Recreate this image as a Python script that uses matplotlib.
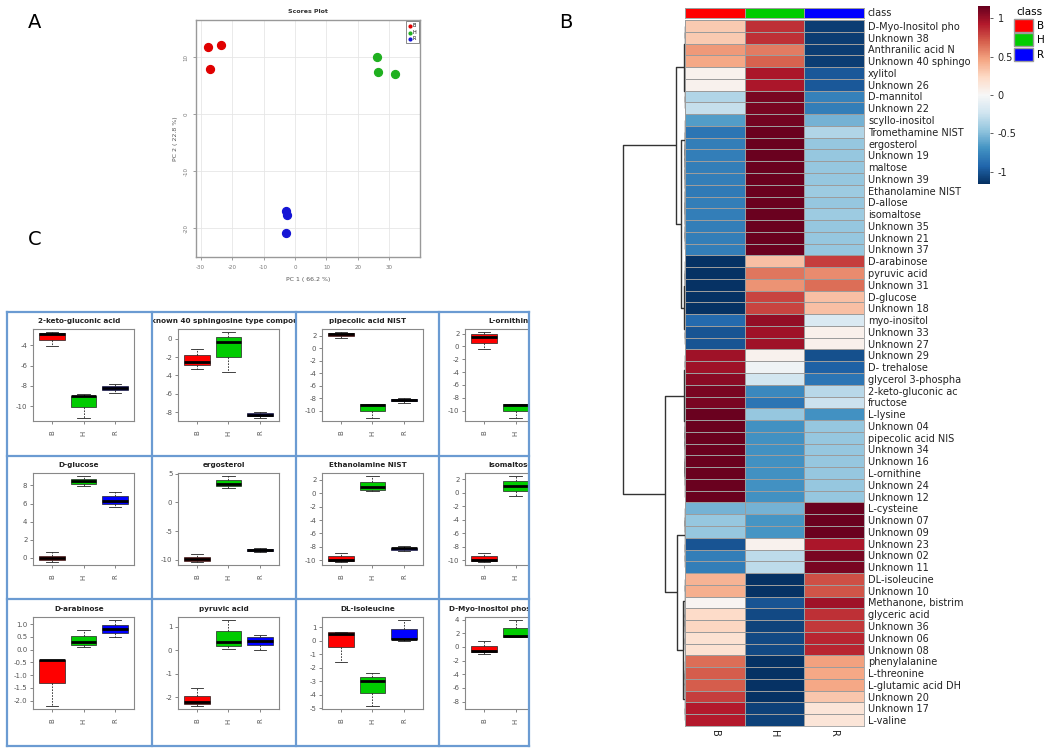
import numpy as np
import matplotlib
matplotlib.use('Agg')
import matplotlib.pyplot as plt
from matplotlib.colors import ListedColormap
from matplotlib.patches import Patch, Rectangle
from matplotlib.lines import Line2D

plt.rcParams['axes.unicode_minus'] = False
plt.rcParams['font.family'] = ['DejaVu Sans']

W, H = 1050, 751

# ---- A: PCA scores ----
groups = ['B', 'H', 'R']
group_colors = ['#e00000', '#1fb01f', '#1515d5']
pc1 = {'B': [-27.8, -23.6, -26.9], 'H': [26.1, 26.4, 31.9], 'R': [-2.7, -2.4, -2.9]}
pc2 = {'B': [11.8, 12.2, 7.9], 'H': [10.1, 7.4, 7.0], 'R': [-17.0, -17.6, -20.75]}

# ---- B: heatmap ----
hm_labels = [
    'D-Myo-Inositol pho', 'Unknown 38', 'Anthranilic acid N', 'Unknown 40 sphingo',
    'xylitol', 'Unknown 26', 'D-mannitol', 'Unknown 22', 'scyllo-inositol',
    'Tromethamine NIST', 'ergosterol', 'Unknown 19', 'maltose', 'Unknown 39',
    'Ethanolamine NIST', 'D-allose', 'isomaltose', 'Unknown 35', 'Unknown 21',
    'Unknown 37', 'D-arabinose', 'pyruvic acid', 'Unknown 31', 'D-glucose',
    'Unknown 18', 'myo-inositol', 'Unknown 33', 'Unknown 27', 'Unknown 29',
    'D- trehalose', 'glycerol 3-phospha', '2-keto-gluconic ac', 'fructose',
    'L-lysine', 'Unknown 04', 'pipecolic acid NIS', 'Unknown 34', 'Unknown 16',
    'L-ornithine', 'Unknown 24', 'Unknown 12', 'L-cysteine', 'Unknown 07',
    'Unknown 09', 'Unknown 23', 'Unknown 02', 'Unknown 11', 'DL-isoleucine',
    'Unknown 10', 'Methanone, bistrim', 'glyceric acid', 'Unknown 36',
    'Unknown 06', 'Unknown 08', 'phenylalanine', 'L-threonine',
    'L-glutamic acid DH', 'Unknown 20', 'Unknown 17', 'L-valine']
hm_B = [0.30, 0.30, 0.50, 0.45, 0.05, 0.05, -0.35, -0.28, -0.65, -0.85,
        -0.80, -0.80, -0.80, -0.80, -0.82, -0.80, -0.80, -0.80, -0.80, -0.80,
        -1.15, -1.15, -1.15, -1.15, -1.15, -0.90, -1.00, -1.00, 0.98, 0.98,
        1.05, 1.10, 1.10, 1.15, 1.15, 1.15, 1.15, 1.15, 1.15, 1.15,
        1.15, -0.55, -0.45, -0.45, -1.00, -0.80, -0.80, 0.40, 0.42, 0.02,
        0.22, 0.25, 0.18, 0.18, 0.65, 0.70, 0.70, 0.80, 0.92, 0.92]
hm_H = [0.85, 0.85, 0.60, 0.68, 0.95, 0.95, 1.10, 1.10, 1.12, 1.15,
        1.15, 1.15, 1.15, 1.15, 1.15, 1.15, 1.15, 1.15, 1.15, 1.15,
        0.35, 0.62, 0.52, 0.78, 0.78, 1.02, 0.98, 0.98, 0.05, -0.05,
        -0.22, -0.75, -0.85, -0.45, -0.70, -0.70, -0.70, -0.70, -0.70, -0.70,
        -0.70, -0.55, -0.68, -0.68, 0.05, -0.30, -0.30, -1.15, -1.15, -1.00,
        -1.05, -1.07, -1.05, -1.05, -1.15, -1.15, -1.15, -1.15, -1.08, -1.08]
hm_R = [-1.10, -1.10, -1.10, -1.10, -0.98, -0.98, -0.78, -0.80, -0.55, -0.35,
        -0.45, -0.45, -0.45, -0.45, -0.42, -0.45, -0.42, -0.45, -0.45, -0.45,
        0.80, 0.55, 0.65, 0.35, 0.35, -0.18, 0.06, 0.06, -1.02, -0.95,
        -0.85, -0.32, -0.25, -0.70, -0.45, -0.45, -0.45, -0.45, -0.45, -0.45,
        -0.45, 1.15, 1.15, 1.15, 0.95, 1.10, 1.10, 0.75, 0.73, 0.98,
        0.85, 0.82, 0.88, 0.88, 0.48, 0.45, 0.45, 0.32, 0.15, 0.15]

# ---- C: box plots (whislo, q1, median, q3, whishi) for B, H, R ----
box_titles = ['2-keto-gluconic acid', 'Unknown 40 sphingosine type compound',
              'pipecolic acid NIST', 'L-ornithine', 'D-glucose', 'ergosterol',
              'Ethanolamine NIST', 'isomaltose', 'D-arabinose', 'pyruvic acid',
              'DL-isoleucine', 'D-Myo-Inositol phosphateNIST']
box_stats = [
    [(-4.1, -3.5, -2.9, -2.8, -2.75), (-11.1, -10.1, -9.0, -8.95, -8.8), (-8.7, -8.35, -8.2, -8.05, -7.85)],
    [(-3.3, -2.85, -2.5, -1.75, -1.15), (-3.65, -1.95, -0.3, 0.15, 0.7), (-8.6, -8.4, -8.3, -8.1, -7.95)],
    [(1.7, 2.0, 2.3, 2.5, 2.55), (-11.1, -10.1, -9.1, -9.0, -8.9), (-8.7, -8.4, -8.3, -8.1, -7.9)],
    [(-0.45, 0.6, 1.45, 1.95, 2.2), (-11.1, -10.1, -9.1, -9.0, -8.9), (-8.7, -8.4, -8.3, -8.1, -7.9)],
    [(-0.4, -0.25, 0.0, 0.25, 0.67), (7.95, 8.2, 8.5, 8.75, 9.0), (5.6, 6.0, 6.3, 6.85, 7.25)],
    [(-10.3, -10.2, -9.9, -9.5, -8.9), (2.5, 2.8, 3.2, 3.8, 4.5), (-8.7, -8.4, -8.3, -8.1, -7.9)],
    [(-10.2, -10.1, -9.9, -9.4, -8.9), (0.3, 0.5, 0.9, 1.65, 2.5), (-8.6, -8.4, -8.2, -8.1, -7.9)],
    [(-10.2, -10.1, -9.9, -9.4, -8.9), (-0.5, 0.2, 1.0, 1.7, 2.4), (-8.6, -8.4, -8.2, -8.1, -7.9)],
    [(-2.2, -1.32, -0.42, -0.42, -0.42), (0.1, 0.2, 0.3, 0.52, 0.78), (0.5, 0.65, 0.8, 0.95, 1.15)],
    [(-2.35, -2.3, -2.2, -1.93, -1.6), (0.05, 0.18, 0.35, 0.83, 1.27), (0.0, 0.22, 0.4, 0.55, 0.65)],
    [(-1.55, -0.45, 0.5, 0.62, 0.65), (-4.8, -3.85, -2.95, -2.65, -2.4), (-0.05, 0.12, 0.15, 0.87, 1.5)],
    [(-1.0, -0.8, -0.6, 0.1, 0.85), (1.4, 1.4, 1.6, 2.8, 3.9), (-8.6, -8.35, -8.2, -8.0, -7.8)],
]
box_yticks = [
    [-10, -8, -6, -4], [-8, -6, -4, -2, 0], [-10, -8, -6, -4, -2, 0, 2], [-10, -8, -6, -4, -2, 0, 2],
    [0, 2, 4, 6, 8], [-10, -5, 0, 5], [-10, -8, -6, -4, -2, 0, 2], [-10, -8, -6, -4, -2, 0, 2],
    [-2.0, -1.5, -1.0, -0.5, 0.0, 0.5, 1.0], [-2, -1, 0, 1], [-5, -4, -3, -2, -1, 0, 1],
    [-8, -6, -4, -2, 0, 2, 4],
]


def px(x0, y0, x1, y1):
    return [x0 / W, 1 - y1 / H, (x1 - x0) / W, (y1 - y0) / H]


def ordered_ward(rows):
    # ward-type agglomeration restricted to neighbouring rows (keeps row order)
    cl = [dict(c=np.array(r, float), n=1, y=i + 0.5, h=0.0) for i, r in enumerate(rows)]
    links = []
    while len(cl) > 1:
        costs = []
        for a, b in zip(cl[:-1], cl[1:]):
            d = a['c'] - b['c']
            costs.append(a['n'] * b['n'] / (a['n'] + b['n']) * float(d @ d))
        k = int(np.argmin(costs))
        a, b = cl[k], cl[k + 1]
        h = max(costs[k], a['h'], b['h'])
        n = a['n'] + b['n']
        links.append((a['y'], b['y'], a['h'], b['h'], h))
        cl[k:k + 2] = [dict(c=(a['n'] * a['c'] + b['n'] * b['c']) / n, n=n,
                            y=(a['y'] + b['y']) / 2, h=h)]
    return links


fig = plt.figure(figsize=(W / 100, H / 100), dpi=100)

for letter, (x, y) in zip('ABC', [(35, 22), (566, 22), (35, 240)]):
    fig.text(x / W, 1 - y / H, letter, fontsize=14, ha='center', va='center')

# ---------------- A ----------------
ax = fig.add_axes(px(196, 20, 420, 257))
for g, c in zip(groups, group_colors):
    ax.scatter(pc1[g], pc2[g], s=32, color=c, label=g, zorder=3)
ax.set_xlim(-31.5, 39.8)
ax.set_ylim(-25, 16.5)
ax.set_xticks([-30, -20, -10, 0, 10, 20, 30])
ax.set_yticks([-20, -10, 0, 10])
ax.grid(color='#e6e6e6', lw=0.6)
ax.tick_params(labelsize=4, colors='#777777', length=2, width=0.5)
for lab in ax.get_yticklabels():
    lab.set_rotation(90)
    lab.set_va('center')
for s in ax.spines.values():
    s.set_color('#999999')
    s.set_linewidth(1.0)
ax.set_title('Scores Plot', fontsize=4.5, fontweight='bold', color='#333333', pad=5)
ax.set_xlabel('PC 1 ( 66.2 %)', fontsize=4.5, color='#555555', labelpad=5)
ax.set_ylabel('PC 2 ( 22.8 %)', fontsize=4.5, color='#555555', labelpad=4)
leg = ax.legend(loc='upper right', fontsize=3.5, markerscale=0.35, handletextpad=0.2,
                borderpad=0.4, labelspacing=0.3, fancybox=False, edgecolor='#555555',
                borderaxespad=0.3, handlelength=0.8)
leg.get_frame().set_linewidth(0.6)

# ---------------- B ----------------
values = np.column_stack([hm_B, hm_H, hm_R])
nrow = len(hm_labels)
vlim = 1.16

hm = fig.add_axes(px(685, 20, 864, 726))
mesh = hm.pcolormesh(values, cmap='RdBu_r', vmin=-vlim, vmax=vlim,
                     edgecolors='#9c9c9c', linewidth=0.6)
hm.set_ylim(nrow, 0)
hm.set_xlim(0, 3)
hm.yaxis.tick_right()
hm.set_yticks(np.arange(nrow) + 0.5)
hm.set_yticklabels(hm_labels, fontsize=7, color='#222222')
hm.set_xticks(np.arange(3) + 0.5)
hm.set_xticklabels(groups, rotation=270, fontsize=7, color='#222222')
hm.tick_params(length=0, pad=3)
for s in hm.spines.values():
    s.set_color('#9c9c9c')
    s.set_linewidth(0.6)

cls = fig.add_axes(px(685, 8, 864, 18))
cls.pcolormesh(np.arange(3).reshape(1, 3), cmap=ListedColormap(['#ff0000', '#00cc00', '#0000ff']),
               edgecolors='#9c9c9c', linewidth=0.6)
cls.set_xticks([])
cls.set_yticks([])
for s in cls.spines.values():
    s.set_color('#9c9c9c')
    s.set_linewidth(0.6)
fig.text(868 / W, 1 - 13 / H, 'class', fontsize=7, va='center', color='#222222')

cax = fig.add_axes(px(978, 6, 990, 184))
cb = fig.colorbar(mesh, cax=cax, ticks=[-1, -0.5, 0, 0.5, 1])
cb.ax.set_yticklabels(['-1', '-0.5', '0', '0.5', '1'])
cb.ax.tick_params(labelsize=7, length=2, width=0.5, colors='#222222')
cb.outline.set_visible(False)

fig.legend(handles=[Patch(facecolor=c, edgecolor='#9c9c9c', label=g)
                    for g, c in zip(groups, ['#ff0000', '#00cc00', '#0000ff'])],
           title='class', loc='upper left', bbox_to_anchor=(1008 / W, 1 - 1 / H),
           frameon=False, fontsize=7.5, title_fontsize=7.5, handlelength=1.8,
           handleheight=1.55, labelspacing=0.15, handletextpad=0.35, borderpad=0.1)

dend = fig.add_axes(px(615, 20, 685, 726))
links = ordered_ward(values)
for y1, y2, h1, h2, h in links:
    dend.plot([h1, h, h, h2], [y1, y1, y2, y2], color='#333333', lw=1.0,
              solid_capstyle='butt')
root = max(l[4] for l in links)
dend.set_xlim(root * 70 / 62, 0)
dend.set_ylim(nrow, 0)
dend.axis('off')

# ---------------- C ----------------
col_x = [7, 152, 296, 439]
row_y = [312, 456, 600]
row_h = [144, 143, 146]
cw = 144
frame_col = '#6b9bd2'

for i, (title, stats, yt) in enumerate(zip(box_titles, box_stats, box_yticks)):
    r, c = divmod(i, 4)
    x0, y0, h = col_x[c], row_y[r], row_h[r]
    fr = fig.add_axes(px(x0, y0, x0 + cw, y0 + h))
    fr.axis('off')
    fr.text(0.5, 1 - 9 / h, title, transform=fr.transAxes, ha='center', va='center',
            fontsize=5.2, fontweight='bold', color='#222222', clip_on=True)

    bx = fig.add_axes(px(x0 + 26, y0 + 17, x0 + 127, y0 + 109))
    bstats = [dict(whislo=s[0], q1=s[1], med=s[2], q3=s[3], whishi=s[4]) for s in stats]
    parts = bx.bxp(bstats, positions=[1, 2, 3], widths=0.8, patch_artist=True,
                   showfliers=False,
                   boxprops=dict(edgecolor='#222222', linewidth=0.5),
                   medianprops=dict(color='black', linewidth=2.0),
                   whiskerprops=dict(color='#222222', linewidth=0.6, linestyle=(0, (2, 1.5))),
                   capprops=dict(color='#222222', linewidth=0.6))
    for p, col in zip(parts['boxes'], ['#ff0000', '#00cc00', '#0000ff']):
        p.set_facecolor(col)
    for cap in parts['caps']:
        m = np.mean(cap.get_xdata())
        cap.set_xdata([m - 0.2, m + 0.2])
    bx.set_xlim(0.4, 3.6)
    bx.margins(y=0.04)
    bx.set_yticks(yt)
    if any(float(t) != int(t) for t in yt):
        bx.set_yticklabels(['%.1f' % t for t in yt])
    else:
        bx.set_yticklabels(['%d' % t for t in yt])
    bx.set_xticks([1, 2, 3])
    bx.set_xticklabels(groups, rotation=90)
    bx.tick_params(labelsize=5, length=2, width=0.5, colors='#555555', pad=2)
    bx.tick_params(axis='x', pad=5)
    for s in bx.spines.values():
        s.set_color('#888888')
        s.set_linewidth(0.8)

# the right column of panel C is cut off in the original figure
fig.patches.append(Rectangle((530 / W, 0), (612 - 530) / W, (H - 300) / H,
                             transform=fig.transFigure, facecolor='white',
                             edgecolor='none', zorder=5))
for x in [7, 152, 296, 439, 529]:
    fig.add_artist(Line2D([x / W, x / W], [1 - 312 / H, 1 - 746 / H], color=frame_col,
                          lw=1.6, zorder=6))
for y in [312, 456, 599, 746]:
    fig.add_artist(Line2D([7 / W, 529 / W], [1 - y / H, 1 - y / H], color=frame_col,
                          lw=1.6, zorder=6))

fig.savefig('out.png', dpi=100)
